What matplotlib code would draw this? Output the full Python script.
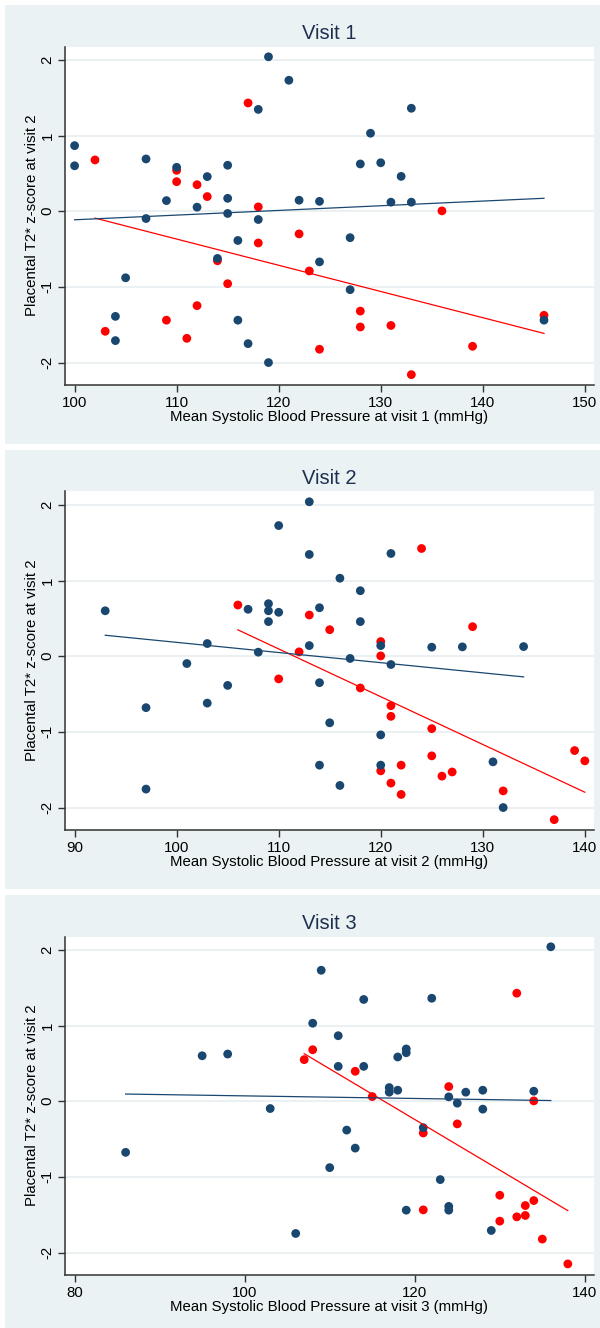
import numpy as np
import matplotlib.pyplot as plt
from matplotlib.patches import Rectangle

plt.rcParams['font.family'] = ['Liberation Sans', 'DejaVu Sans']

navy = '#1a476f'
red = '#ff0000'
bg = '#eaf2f3'

# visit 1
v1_sbp_blue = [119, 121, 118, 100, 100, 107, 110, 113, 115, 109, 112, 115, 115, 107, 118,
               122, 124, 116, 114, 124, 105, 104, 104, 116, 117, 119,
               133, 129, 128, 130, 132, 131, 133, 127, 127, 146]
v1_z_blue = [2.04, 1.73, 1.345, 0.866, 0.60, 0.69, 0.58, 0.457, 0.607, 0.14, 0.053, 0.17, -0.03, -0.097, -0.11,
             0.145, 0.13, -0.387, -0.624, -0.67, -0.88, -1.39, -1.71, -1.44, -1.75, -2.0,
             1.36, 1.03, 0.624, 0.64, 0.46, 0.119, 0.119, -0.35, -1.037, -1.44]
v1_sbp_red = [117, 102, 110, 110, 112, 113, 118, 122, 118, 114, 123, 115, 112, 109, 103, 111, 124,
              136, 128, 128, 131, 139, 133, 146]
v1_z_red = [1.43, 0.677, 0.54, 0.39, 0.35, 0.193, 0.057, -0.30, -0.42, -0.655, -0.79, -0.958, -1.248, -1.44, -1.587, -1.68, -1.824,
            0.004, -1.32, -1.53, -1.51, -1.785, -2.16, -1.376]

# visit 2
v2_sbp_blue = [113, 110, 113, 93, 107, 109, 109, 110, 109, 114, 103, 108, 113, 101, 105, 114, 97, 103, 115, 114, 97,
               121, 116, 118, 118, 120, 125, 128, 134, 117, 121, 120, 120, 116, 131, 132]
v2_z_blue = [2.04, 1.726, 1.344, 0.60, 0.62, 0.694, 0.60, 0.58, 0.457, 0.64, 0.167, 0.053, 0.14, -0.097, -0.386, -0.35, -0.68, -0.62, -0.88, -1.44, -1.756,
             1.357, 1.03, 0.865, 0.457, 0.14, 0.119, 0.123, 0.127, -0.03, -0.11, -1.04, -1.44, -1.708, -1.396, -2.0]
v2_sbp_red = [106, 113, 115, 112, 110,
              124, 129, 120, 120, 118, 121, 121, 125, 125, 120, 122, 126, 127, 121, 122, 132, 137, 139, 140]
v2_z_red = [0.676, 0.544, 0.35, 0.057, -0.30,
            1.423, 0.39, 0.193, 0.004, -0.42, -0.654, -0.795, -0.957, -1.317, -1.515, -1.44, -1.585, -1.53, -1.677, -1.827, -1.78, -2.16, -1.247, -1.383]

# visit 3
v3_sbp_blue = [86, 95, 98, 103, 106, 108, 109, 110,
               114, 111, 111, 114, 112, 113, 117, 117, 118, 118, 119, 119, 122, 124, 125, 126, 128, 128, 134,
               121, 123, 119, 124, 124, 129, 136]
v3_z_blue = [-0.676, 0.60, 0.623, -0.097, -1.748, 1.03, 1.73, -0.878,
             1.344, 0.865, 0.46, 0.46, -0.382, -0.62, 0.18, 0.119, 0.145, 0.584, 0.69, 0.64, 1.36, 0.057, -0.026, 0.119, 0.145, -0.105, 0.132,
             -0.35, -1.036, -1.44, -1.39, -1.44, -1.708, 2.04]
v3_sbp_red = [108, 107, 113, 115, 124, 125, 121, 121, 132, 134, 130, 130, 132, 133, 133, 134, 135, 138]
v3_z_red = [0.68, 0.549, 0.395, 0.061, 0.193, -0.30, -0.42, -1.436, 1.427, 0.004, -1.243, -1.585, -1.528, -1.379, -1.51, -1.313, -1.822, -2.15]

panels = [
    ("Visit 1", v1_sbp_blue, v1_z_blue, v1_sbp_red, v1_z_red, [100, 110, 120, 130, 140, 150], (99.06, 150.9)),
    ("Visit 2", v2_sbp_blue, v2_z_blue, v2_sbp_red, v2_z_red, [90, 100, 110, 120, 130, 140], (89.06, 140.9)),
    ("Visit 3", v3_sbp_blue, v3_z_blue, v3_sbp_red, v3_z_red, [80, 100, 120, 140], (78.87, 141.08)),
]

W, H = 600, 1328
fig = plt.figure(figsize=(W / 100, H / 100), dpi=100)
fig.patch.set_facecolor('white')

bg_tops = [5, 450, 895]
bg_bots = [444, 889, 1328]

for i, (title, xb, yb, xr, yr, xticks, xlim) in enumerate(panels):
    t = bg_tops[i]
    rect = Rectangle((5 / W, 1 - bg_bots[i] / H), 595 / W, (bg_bots[i] - t) / H,
                     transform=fig.transFigure, facecolor=bg, edgecolor='none', zorder=-10)
    fig.add_artist(rect)
    top = t + 41.5
    bot = t + 379.5
    ax = fig.add_axes([65 / W, 1 - bot / H, (594 - 65) / W, (bot - top) / H])
    ax.set_zorder(1)
    ax.set_facecolor('white')

    ax.scatter(xr, yr, s=40, color=red, edgecolors='none', zorder=3)
    ax.scatter(xb, yb, s=40, color=navy, edgecolors='none', zorder=3)

    # linear fit for each group
    for xs, ys, c in [(xr, yr, red), (xb, yb, navy)]:
        xs = np.array(xs, dtype=float)
        ys = np.array(ys, dtype=float)
        b, a = np.polyfit(xs, ys, 1)
        xx = np.array([xs.min(), xs.max()])
        ax.plot(xx, a + b * xx, color=c, lw=0.9, zorder=4)

    ax.set_xlim(*xlim)
    ax.set_ylim(-2.29, 2.176)
    ax.set_xticks(xticks)
    ax.set_yticks([-2, -1, 0, 1, 2])
    ax.set_yticklabels(['-2', '-1', '0', '1', '2'], rotation=90, va='center')
    ax.grid(axis='y', color='#e6eef0', lw=1.1)
    ax.set_axisbelow(True)
    for s in ['top', 'right']:
        ax.spines[s].set_visible(False)
    for s in ['left', 'bottom']:
        ax.spines[s].set_color('#333333')
        ax.spines[s].set_linewidth(1.1)
    ax.tick_params(colors='#333333', labelcolor='black', labelsize=10.8, length=5, width=1)
    ax.tick_params(axis='y', pad=2.5)

    ax.set_title(title, fontsize=14.5, color='#1e2f50', pad=5.5)
    ax.set_xlabel(f"Mean Systolic Blood Pressure at visit {i + 1} (mmHg)", fontsize=10.8, labelpad=0)
    ax.set_ylabel("Placental T2* z-score at visit 2", fontsize=10.8, labelpad=1)

fig.savefig('out.png', dpi=100, facecolor='white')
